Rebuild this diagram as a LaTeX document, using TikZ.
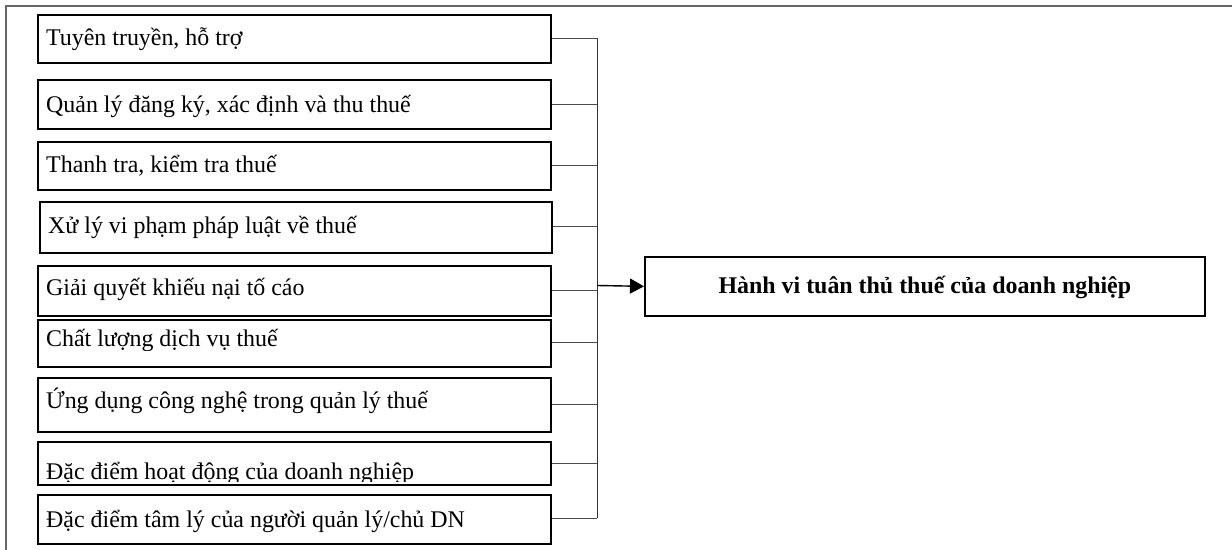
\documentclass[tikz,border=0pt]{standalone}
\usepackage{fontspec}
\setmainfont{Liberation Serif}
\usetikzlibrary{arrows.meta}
\tikzset{
  fbox/.style={draw=black, line width=1.7bp, minimum width=513bp, anchor=north west, inner sep=0pt},
  goalbox/.style={draw=black, line width=1.7bp, minimum width=560bp, minimum height=59bp, anchor=north west, inner sep=0pt},
  lbl/.style={anchor=base west, inner sep=0pt, font=\fontsize{24}{28}\selectfont},
  goallbl/.style={anchor=base, inner sep=0pt, font=\fontsize{24}{28}\selectfont\bfseries},
  conn/.style={draw=black!70, line width=0.9bp},
  bus/.style={draw=black!80, line width=1bp},
  frameline/.style={draw=black!60, line width=1.3bp},
  arr/.style={draw=black, line width=1.4bp, -{Triangle[length=14bp, width=15bp]}}
}
\begin{document}
\begin{tikzpicture}[x=1bp, y=-1bp]
\useasboundingbox (0,0) rectangle (1232,550);

% page frame
\coordinate (fc) at (6,6);
\coordinate (fr) at (1232,6);
\coordinate (fb) at (6,550);
\draw[frameline] (fr) -- (fc) -- (fb);

% factor boxes
\node[fbox, minimum height=48bp] (b1) at (37,14) {};
\node[fbox, minimum height=49bp] (b2) at (37,79) {};
\node[fbox, minimum height=48bp] (b3) at (37,141) {};
\node[fbox, minimum height=51bp, minimum width=512bp] (b4) at (39,201) {};
\node[fbox, minimum height=50bp] (b5) at (37,265) {};
\node[fbox, minimum height=47bp] (b6) at (37,319) {};
\node[fbox, minimum height=54bp] (b7) at (37,377) {};
\node[fbox, minimum height=43bp] (b8) at (37,441) {};
\node[fbox, minimum height=49bp] (b9) at (37,494) {};

% labels
\node[lbl] (t1) at (46,46) {Tuyên truyền, hỗ trợ};
\node[lbl] (t2) at (46,113) {Quản lý đăng ký, xác định và thu thuế};
\node[lbl] (t3) at (46,173) {Thanh tra, kiểm tra thuế};
\node[lbl] (t4) at (48,234) {Xử lý vi phạm pháp luật về thuế};
\node[lbl] (t5) at (46,296) {Giải quyết khiếu nại tố cáo};
\begin{scope}
  \clip (40,322) rectangle (548,351);
  \node[lbl] (t6) at (46,347) {Chất lượng dịch vụ thuế};
\end{scope}
\node[lbl] (t7) at (46,408) {Ứng dụng công nghệ trong quản lý thuế};
\begin{scope}
  \clip (40,444) rectangle (548,481);
  \node[lbl] (t8) at (46,479) {Đặc điểm hoạt động của doanh nghiệp};
\end{scope}
\node[lbl] (t9) at (46,527) {Đặc điểm tâm lý của người quản lý/chủ DN};

% outcome box
\node[goalbox] (goal) at (644,256) {};
\node[goallbl] (gt) at (goal.center |- 0,293.5) {Hành vi tuân thủ thuế của doanh nghiệp};

% junction points on the collecting line
\coordinate (j1) at (597,38);
\coordinate (j2) at (597,104);
\coordinate (j3) at (597,165);
\coordinate (j4) at (597,226);
\coordinate (j5) at (597,290.5);
\coordinate (j6) at (597,342);
\coordinate (j7) at (597,404);
\coordinate (j8) at (597,463);
\coordinate (j9) at (597,518);
\coordinate (ja) at (597,285.5);

\foreach \i in {1,...,9} {
  \draw[conn] (b\i.east |- j\i) -- (j\i);
}
\draw[bus] (j1) -- (j9);
\draw[arr] (ja) -- (goal.west);
\end{tikzpicture}
\end{document}
